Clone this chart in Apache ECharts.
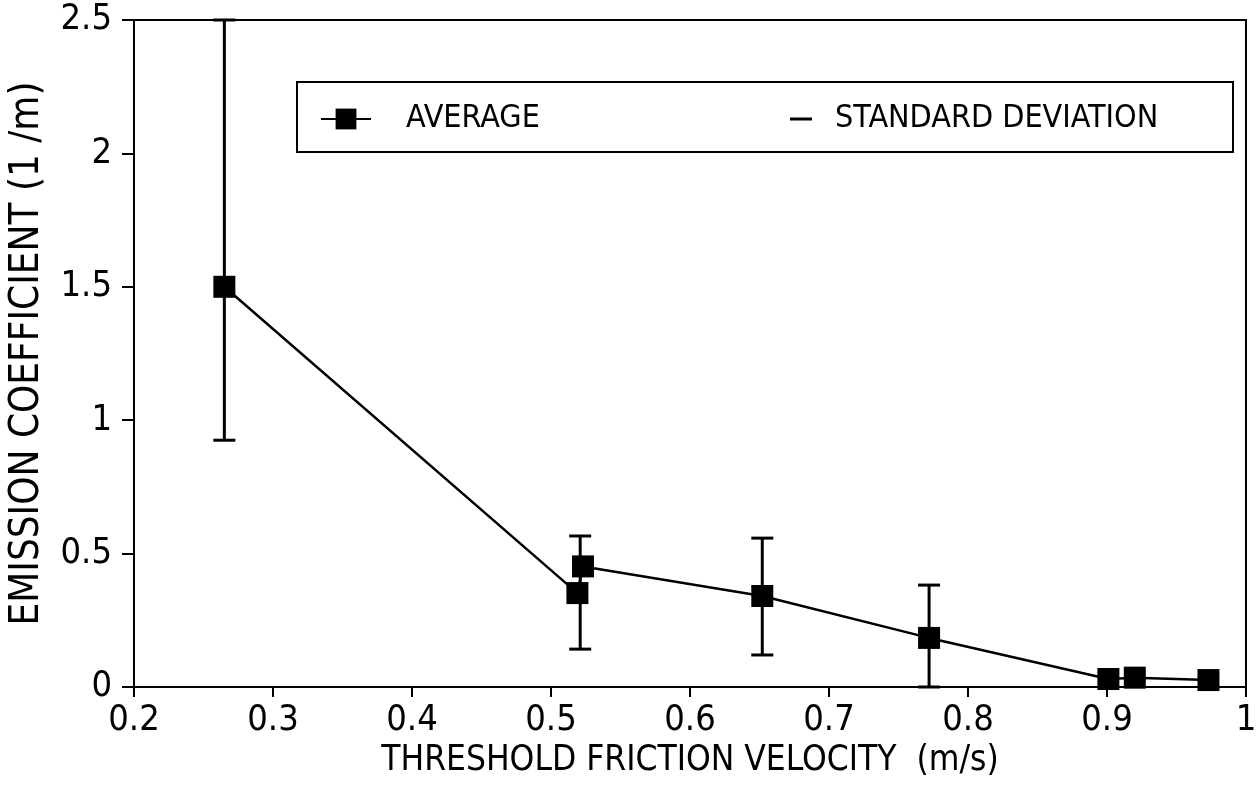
<!DOCTYPE html>
<html>
<head>
<meta charset="utf-8">
<script src="https://cdn.jsdelivr.net/npm/echarts@6/dist/echarts.min.js"></script>
<style>
  html, body { margin: 0; padding: 0; background: #fff; }
  #chart { width: 1260px; height: 787px; }
</style>
</head>
<body>
<div id="chart"></div>
<script>
// threshold friction velocity (m/s) and average emission coefficient (1/m)
var velocity = [0.265, 0.519, 0.523, 0.652, 0.772, 0.901, 0.92, 0.973];
var average = [1.5, 0.352, 0.452, 0.341, 0.184, 0.03, 0.035, 0.026];

// standard deviation bars: x, lower end, upper end
var sdVelocity = [0.265, 0.521, 0.652, 0.772];
var sdLow = [0.925, 0.142, 0.12, 0.0];
var sdHigh = [2.5, 0.566, 0.558, 0.382];

var xTicks = { min: 0.2, max: 1, step: 0.1 };
var yTicks = { min: 0, max: 2.5, step: 0.5 };

var textFont = 'DejaVu Sans Condensed';

var chart = echarts.init(document.getElementById('chart'));

var lineData = [];
for (var i = 0; i < velocity.length; i++) {
  lineData.push([velocity[i], average[i]]);
}
var sdData = [];
for (var j = 0; j < sdVelocity.length; j++) {
  sdData.push([sdVelocity[j], sdLow[j], sdHigh[j]]);
}

var option = {
  backgroundColor: '#fff',
  animation: false,
  grid: {
    left: 133,
    right: 14,
    top: 20,
    bottom: 100,
    show: true,
    borderColor: '#000',
    borderWidth: 2
  },
  graphic: [{
    type: 'rect',
    shape: { x: 297, y: 82, width: 936, height: 70 },
    style: { fill: null, stroke: '#000', lineWidth: 2 },
    z: 10
  }],
  legend: [{
    data: ['AVERAGE'],
    left: 320,
    top: 103,
    padding: 0,
    itemWidth: 50,
    itemHeight: 26,
    textStyle: {
      color: '#000',
      fontFamily: textFont,
      fontSize: 32,
      padding: [0, 0, 0, 30]
    }
  }, {
    data: [{ name: 'STANDARD DEVIATION', icon: 'rect' }],
    left: 790,
    top: 103,
    padding: 0,
    itemWidth: 22,
    itemHeight: 3,
    textStyle: {
      color: '#000',
      fontFamily: textFont,
      fontSize: 32,
      padding: [0, 0, 0, 18]
    }
  }],
  xAxis: {
    type: 'value',
    min: xTicks.min,
    max: xTicks.max,
    interval: xTicks.step,
    name: 'THRESHOLD FRICTION VELOCITY  (m/s)',
    nameLocation: 'middle',
    nameGap: 56,
    nameTextStyle: { color: '#000', fontFamily: textFont, fontSize: 35 },
    axisLine: { lineStyle: { color: '#000', width: 2 } },
    axisTick: { show: true, inside: false, length: 10, lineStyle: { color: '#000', width: 2 } },
    axisLabel: {
      color: '#000',
      fontFamily: textFont,
      fontSize: 36,
      margin: 16,
      formatter: function (v) { return String(+v.toFixed(1)); }
    },
    splitLine: { show: false }
  },
  yAxis: {
    type: 'value',
    min: yTicks.min,
    max: yTicks.max,
    interval: yTicks.step,
    name: 'EMISSION COEFFICIENT (1 /m)',
    nameLocation: 'middle',
    nameGap: 86,
    nameTextStyle: { color: '#000', fontFamily: textFont, fontSize: 40 },
    axisLine: { show: true, lineStyle: { color: '#000', width: 2 } },
    axisTick: { show: true, inside: false, length: 12, lineStyle: { color: '#000', width: 2 } },
    axisLabel: {
      color: '#000',
      fontFamily: textFont,
      fontSize: 36,
      margin: 22,
      formatter: function (v) { return String(+v.toFixed(1)); }
    },
    splitLine: { show: false }
  },
  series: [{
    name: 'STANDARD DEVIATION',
    type: 'custom',
    itemStyle: { color: '#000' },
    z: 2,
    renderItem: function (params, api) {
      var x = api.value(0);
      var top = api.coord([x, api.value(2)]);
      var bot = api.coord([x, api.value(1)]);
      var w = 11;
      var st = { stroke: '#000', lineWidth: 3 };
      return {
        type: 'group',
        children: [
          { type: 'line', shape: { x1: top[0], y1: top[1], x2: bot[0], y2: bot[1] }, style: st },
          { type: 'line', shape: { x1: top[0] - w, y1: top[1], x2: top[0] + w, y2: top[1] }, style: st },
          { type: 'line', shape: { x1: bot[0] - w, y1: bot[1], x2: bot[0] + w, y2: bot[1] }, style: st }
        ]
      };
    },
    encode: { x: 0, y: [1, 2] },
    data: sdData
  }, {
    name: 'AVERAGE',
    type: 'line',
    z: 3,
    symbol: 'rect',
    symbolSize: 22,
    lineStyle: { color: '#000', width: 2.5 },
    itemStyle: { color: '#000' },
    data: lineData
  }]
};
chart.setOption(option);
</script>
</body>
</html>
